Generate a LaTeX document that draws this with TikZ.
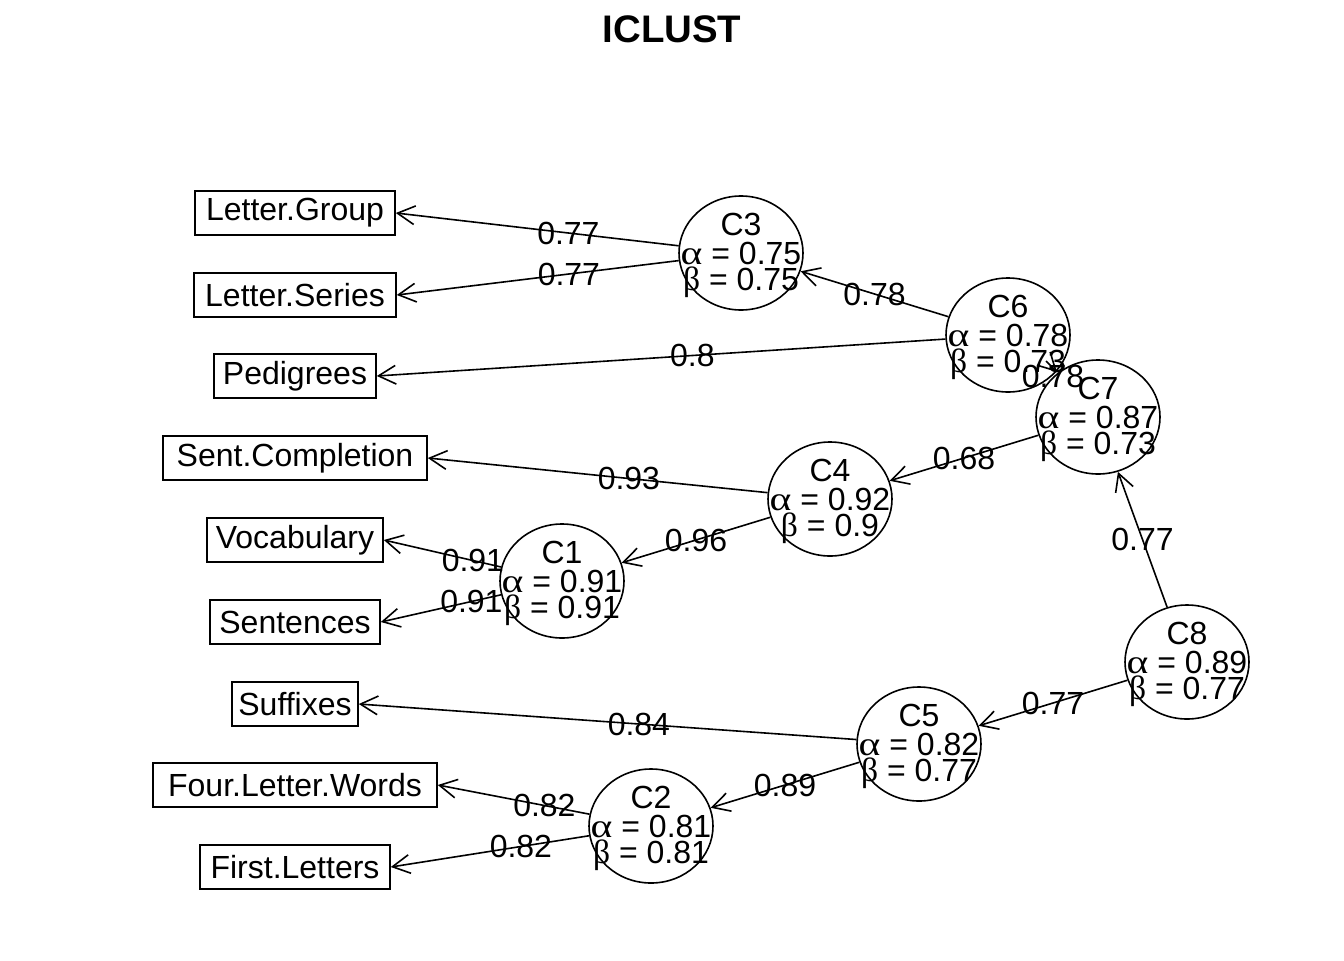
\documentclass[tikz,border=0pt]{standalone}
\usepackage{fontspec}
\usepackage{graphicx}
\setmainfont{Liberation Sans}
\newfontfamily\grk{Liberation Serif}
\usetikzlibrary{shapes.geometric,arrows.meta,calc}
\newcommand\galpha{\scalebox{1.3}[1.05]{\grk α}}
\newcommand\gbeta{\scalebox{1.05}[1.05]{\grk β}}
\newcommand\mkclus[5]{%
  \node[clus] (#1) at (#2,#3) {};
  \node[txt] (#1t) at ($(#1)+(0,-29)$) {#1};
  \node[txt] (#1a) at (#1) {\galpha{} = #4};
  \node[txt] (#1b) at ($(#1)+(0,26.5)$) {\gbeta{} = #5};
}
\newcommand\itemedge[3]{%
  \draw[arr] (#1) -- (#2.east);
  \path (#1.center) -- (#2.east) node[txt,midway] {#3};
}
\newcommand\clusedge[3]{%
  \draw[arr] (#1) -- (#2);
  \path (#1.center) -- (#2.center) node[txt,midway] {#3};
}
\begin{document}
\begin{tikzpicture}[x=0.75pt,y=-0.75pt,
  every node/.style={font=\fontsize{24}{28}\selectfont},
  clus/.style={draw, ellipse, line width=1.2pt, minimum width=93pt, minimum height=85.5pt, inner sep=0pt},
  item/.style={draw, rectangle, line width=1.2pt, minimum width={#1*0.75pt}, minimum height=33pt, inner xsep=0pt, inner ysep=0pt},
  txt/.style={inner sep=0pt, text height=17.2pt, text depth=0pt},
  arr/.style={line width=1.2pt, -{Straight Barb[length=13pt,width=14pt,line width=1.2pt]}},
]
\useasboundingbox (0,0) rectangle (1344,960);
\node[inner sep=0pt, text height=20.6pt, text depth=0pt, font=\fontsize{28.8}{32}\selectfont\bfseries] (title) at (672,29) {ICLUST};

% items
\node[item=200] (lg)  at (295,213) {Letter.Group};
\node[item=202] (ls)  at (295,295) {Letter.Series};
\node[item=162] (ped) at (295,376) {Pedigrees};
\node[item=264] (sc)  at (295,458) {Sent.Completion};
\node[item=176] (voc) at (295,540) {Vocabulary};
\node[item=170] (sen) at (295,622) {Sentences};
\node[item=126] (suf) at (295,704) {Suffixes};
\node[item=284] (flw) at (295,785) {Four.Letter.Words};
\node[item=190] (fl)  at (295,867) {First.Letters};

% clusters
\mkclus{C3}{741}{253}{0.75}{0.75}
\mkclus{C6}{1008}{335}{0.78}{0.73}
\mkclus{C7}{1098}{417}{0.87}{0.73}
\mkclus{C4}{830}{499}{0.92}{0.9}
\mkclus{C1}{562}{581}{0.91}{0.91}
\mkclus{C8}{1187}{662}{0.89}{0.77}
\mkclus{C5}{919}{744}{0.82}{0.77}
\mkclus{C2}{651}{826}{0.81}{0.81}

% edges
\itemedge{C3}{lg}{0.77}
\itemedge{C3}{ls}{0.77}
\clusedge{C6}{C3}{0.78}
\itemedge{C6}{ped}{0.8}
% C7 -> C6 (overlapping ellipses: tiny arrow)
\coordinate (s76) at (1046,361);
\coordinate (e76) at (1057,372);
\draw[arr] (s76) -- (e76);
\path (C7.center) -- (C6.center) node[txt,midway] {0.78};
\clusedge{C7}{C4}{0.68}
\itemedge{C4}{sc}{0.93}
\clusedge{C4}{C1}{0.96}
\itemedge{C1}{voc}{0.91}
\itemedge{C1}{sen}{0.91}
\clusedge{C8}{C7}{0.77}
\clusedge{C8}{C5}{0.77}
\itemedge{C5}{suf}{0.84}
\clusedge{C5}{C2}{0.89}
\itemedge{C2}{flw}{0.82}
\itemedge{C2}{fl}{0.82}
\end{tikzpicture}
\end{document}
